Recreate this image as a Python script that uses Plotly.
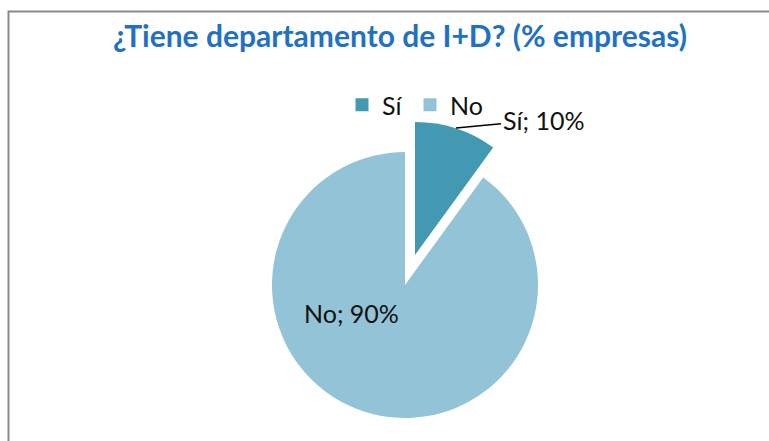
import plotly.graph_objects as go

categories = ["Sí", "No"]
values = [10, 90]
colors = ["#4399B1", "#93C3D6"]
title_text = "¿Tiene departamento de I+D? (% empresas)"

W, H = 769, 441
FONT = "Lato"

def px_dom(x0, x1, ytop, ybot):
    return dict(x=[x0 / W, x1 / W], y=[1 - ybot / H, 1 - ytop / H])

fig = go.Figure()

# legend entries (one legend box per entry for exact spacing)
legend_ids = ["legend", "legend2"]
for cat, col, lid in zip(categories, colors, legend_ids):
    fig.add_trace(go.Scatter(x=[None], y=[None], mode="markers", name=cat,
                             marker=dict(symbol="square", size=13, color=col),
                             showlegend=True, hoverinfo="skip", legend=lid))

# "No" slice (Sí slice transparent)
fig.add_trace(go.Pie(labels=categories, values=values, sort=False, direction="clockwise",
                     rotation=0, marker=dict(colors=["rgba(0,0,0,0)", colors[1]], line=dict(width=0)),
                     textinfo="none", showlegend=False, hoverinfo="label+percent",
                     domain=px_dom(272, 538, 152, 418)))
# exploded "Sí" slice
fig.add_trace(go.Pie(labels=categories, values=values, sort=False, direction="clockwise",
                     rotation=0, marker=dict(colors=[colors[0], "rgba(0,0,0,0)"], line=dict(width=0)),
                     textinfo="none", showlegend=False, hoverinfo="label+percent",
                     domain=px_dom(282, 548, 122, 388)))

total = sum(values)
labels_txt = [f"{c}; {round(v / total * 100)}%" for c, v in zip(categories, values)]

fig.add_annotation(x=456 / W, y=1 - 128 / H, xref="paper", yref="paper",
                   text=labels_txt[0], showarrow=True, arrowhead=0, arrowwidth=1.5,
                   arrowcolor="#000000", ax=87, ay=-8, standoff=0,
                   font=dict(family=FONT, size=25, color="#111111"))
fig.add_annotation(x=351 / W, y=1 - 330 / H, xref="paper", yref="paper",
                   text=labels_txt[1], showarrow=False,
                   font=dict(family=FONT, size=25, color="#111111"))

fig.add_shape(type="rect", xref="paper", yref="paper",
              x0=8.5 / W, x1=1.05, y0=-0.05, y1=1 - 11.5 / H,
              line=dict(color="#898989", width=2), fillcolor="rgba(0,0,0,0)")

leg_common = dict(orientation="h", xanchor="left", y=1 - 105 / H, yanchor="middle",
                  font=dict(family=FONT, size=25, color="#111111"),
                  bgcolor="rgba(0,0,0,0)")

fig.update_layout(
    width=W, height=H,
    margin=dict(l=0, r=0, t=0, b=0),
    paper_bgcolor="white", plot_bgcolor="white",
    title=dict(text=f"<b>{title_text}</b>", x=400 / W, xanchor="center",
               y=1 - 36 / H, yanchor="middle",
               font=dict(family=FONT, size=30, color="#1F71C5")),
    xaxis=dict(visible=False), yaxis=dict(visible=False),
    legend=dict(x=342 / W, **leg_common),
    legend2=dict(x=410 / W, **leg_common),
)

fig.write_html("out.html", config={"displayModeBar": False},
               post_script="document.body.style.margin='0';document.body.style.overflow='hidden';")
